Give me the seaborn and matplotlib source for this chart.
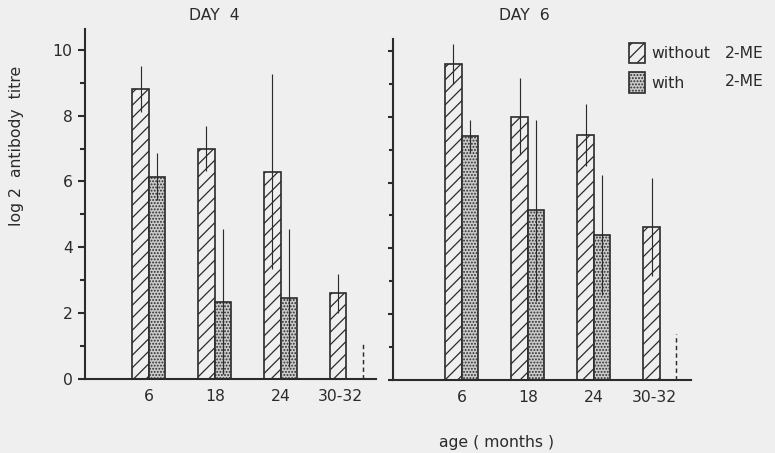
import pandas as pd
import matplotlib
matplotlib.use("Agg")
import matplotlib.pyplot as plt
from matplotlib.patches import Patch
from matplotlib.ticker import MultipleLocator
from matplotlib.transforms import ScaledTranslation
import seaborn as sns

# ---- data -------------------------------------------------------------
ages = ["6", "18", "24", "30-32"]
treatments = ["without", "with"]

# mean log2 antibody titre and error half-width, day 4
day4_without = [8.8, 7.0, 6.3, 2.6]
day4_without_err = [0.7, 0.67, 2.95, 0.6]
day4_with = [6.15, 2.35, 2.45, None]
day4_with_err = [0.7, 2.2, 2.1, None]

# mean log2 antibody titre and error half-width, day 6
day6_without = [9.6, 8.0, 7.45, 4.65]
day6_without_err = [0.6, 1.17, 0.95, 1.5]
day6_with = [7.4, 5.15, 4.4, None]
day6_with_err = [0.5, 2.75, 1.83, None]

# level of the dashed marker for the oldest group with 2-ME (day 4, day 6)
undetected = [1.1, 1.4]

# ---- styling ----------------------------------------------------------
ink = "#2b2b2b"
bg = "#efefef"
dot_fill = "#cbcbcb"
DPI = 150
FS = 7.5

sns.set_style("ticks")
plt.rcParams.update({
    "font.family": ["DejaVu Sans"],
    "hatch.linewidth": 0.6,
    "hatch.color": ink,
    "text.color": ink,
    "axes.edgecolor": ink,
})

rows = []
for day, wo, wi in [("DAY 4", day4_without, day4_with), ("DAY 6", day6_without, day6_with)]:
    for i, a in enumerate(ages):
        rows.append({"day": day, "age": a, "treatment": "without", "titre": wo[i]})
        if wi[i] is not None:
            rows.append({"day": day, "age": a, "treatment": "with", "titre": wi[i]})
df = pd.DataFrame(rows)

fig = plt.figure(figsize=(776 / DPI, 453 / DPI), dpi=DPI, facecolor=bg)
ax1 = fig.add_axes([85 / 776, 74 / 453, 291 / 776, 350 / 453])
ax2 = fig.add_axes([393 / 776, 73 / 453, 298 / 776, 341 / 453])

hatches = {0: "////", 1: "........"}


def panel(ax, day, errs, ytop, xlim, marker_level, major_len, minor_len, labels):
    sub = df[df["day"] == day]
    sns.barplot(data=sub, x="age", y="titre", hue="treatment", order=ages,
                hue_order=treatments, palette={"without": bg, "with": dot_fill},
                saturation=1, width=0.5, errorbar=None, legend=False,
                edgecolor=ink, linewidth=0.8, ax=ax)
    for p in list(ax.patches):
        cx = p.get_x() + p.get_width() / 2
        i = int(round(cx))
        h = 0 if cx < i else 1
        p.set_hatch(hatches[h])
        e = errs[h][i]
        top = p.get_height()
        ax.vlines(cx, top - e, top + e, color=ink, lw=0.55, zorder=3)
    # dashed marker where no titre was found with 2-ME
    ax.vlines(len(ages) - 1 + 0.25, 0, marker_level, color=ink, lw=0.7,
              linestyles=(0, (3, 2.2)), zorder=3)

    ax.set_facecolor(bg)
    ax.set_xlim(*xlim)
    ax.set_ylim(0, ytop)
    ax.set_xlabel("")
    ax.set_ylabel("")
    ax.yaxis.set_major_locator(MultipleLocator(2))
    ax.yaxis.set_minor_locator(MultipleLocator(1))
    for s in ["top", "right"]:
        ax.spines[s].set_visible(False)
    for s in ["left", "bottom"]:
        ax.spines[s].set_linewidth(1.0)
        ax.spines[s].set_color(ink)
    ax.tick_params(axis="y", which="major", length=major_len, width=1.0, color=ink,
                   labelsize=FS, pad=2.5, labelcolor=ink, labelleft=labels)
    ax.tick_params(axis="y", which="minor", length=minor_len, width=1.0, color=ink)
    ax.tick_params(axis="x", length=0, pad=5, labelsize=FS, labelcolor=ink)
    last = ax.get_xticklabels()[-1]
    last.set_transform(last.get_transform()
                       + ScaledTranslation(-6 / DPI, 0, fig.dpi_scale_trans))


panel(ax1, "DAY 4", [day4_without_err, day4_with_err], 10.63, (-0.97, 3.45),
      undetected[0], 3.4, 2.4, True)
panel(ax2, "DAY 6", [day6_without_err, day6_with_err], 10.36, (-1.04, 3.47),
      undetected[1], 2.4, 2.0, False)

fig.text(214 / 776, 1 - 15 / 453, "DAY  4", ha="center", va="center", fontsize=FS)
fig.text(524 / 776, 1 - 15 / 453, "DAY  6", ha="center", va="center", fontsize=FS)
fig.text(17 / 776, 1 - 146 / 453, "log 2  antibody  titre", rotation=90,
         ha="center", va="center", fontsize=FS)
fig.text(497 / 776, 1 - 443 / 453, "age ( months )", ha="center", va="center",
         fontsize=FS)

handles = [Patch(facecolor=bg, edgecolor=ink, hatch=hatches[0], lw=0.8),
           Patch(facecolor=dot_fill, edgecolor=ink, hatch=hatches[1], lw=0.8)]
fig.legend(handles, treatments, loc="upper left",
           bbox_to_anchor=(629 / 776, 1 - 43 / 453), frameon=False, fontsize=FS,
           handlelength=1.05, handleheight=1.6, handletextpad=0.4,
           labelspacing=0.6, borderpad=0, borderaxespad=0, labelcolor=ink)
fig.text(725 / 776, 1 - 53 / 453, "2-ME", ha="left", va="center", fontsize=FS)
fig.text(725 / 776, 1 - 82 / 453, "2-ME", ha="left", va="center", fontsize=FS)

fig.savefig("out.png", dpi=DPI, facecolor=bg)
